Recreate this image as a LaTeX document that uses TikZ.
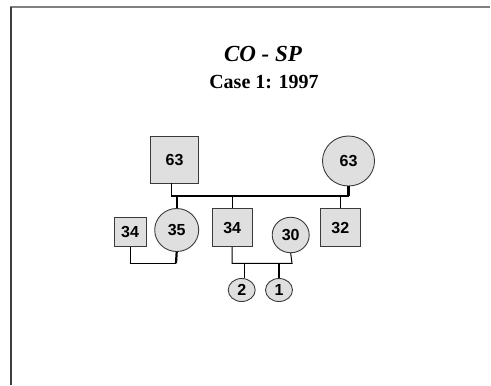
\documentclass[tikz,border=0pt]{standalone}
\usepackage{fontspec}
\usetikzlibrary{shapes.geometric}
\newfontfamily\pedfont{Liberation Sans}[UprightFont={* Bold}]
\newfontfamily\headfont{Liberation Serif}
\definecolor{pedfill}{HTML}{DFDFDF}
\definecolor{pededge}{HTML}{3A3A3A}
\begin{document}
\begin{tikzpicture}[x=1bp,y=-1bp,
  person/.style={draw=pededge, line width=0.9bp, fill=pedfill, inner sep=0pt,
    font=\pedfont\fontsize{16bp}{19bp}\selectfont},
  male/.style={person, rectangle},
  female/.style={person, ellipse},
  link/.style={line width=1bp, black},
  blood/.style={line width=2.2bp, black}]
\useasboundingbox (0,0) rectangle (491,385);
% page frame
\draw[line width=1.5bp, color=gray] (10,7) -- (490,7);
\draw[line width=1.5bp, color=black!75] (11,7) -- (11,385);

% headings
\node[anchor=base, font=\headfont\bfseries\itshape\fontsize{23bp}{26bp}\selectfont] (title) at (263,61) {CO - SP};
\node[anchor=base, font=\headfont\bfseries\fontsize{20bp}{24bp}\selectfont] (case) at (264,88.3) {Case 1: 1997};

% grandparents
\node[male, minimum width=48bp, minimum height=47bp] (gf) at (174.5,159.5) {63};
\node[female, minimum width=52bp, minimum height=50bp] (gm) at (348.5,161) {63};

% second generation
\node[male, minimum width=32bp, minimum height=29bp] (sp1) at (130,232) {34};
\node[female, minimum width=44bp, minimum height=43bp] (d35) at (176.7,230) {35};
\node[male, minimum width=40bp, minimum height=38bp] (s34) at (232.2,227.5) {34};
\node[female, minimum width=37bp, minimum height=35.5bp] (sp2) at (290.7,235) {30};
\node[male, minimum width=40bp, minimum height=38bp] (s32) at (340.3,227.5) {32};

% third generation
\node[female, minimum width=27bp, minimum height=23bp] (c2) at (241.7,290) {2};
\node[female, minimum width=27bp, minimum height=23bp] (c1) at (279,290) {1};

% sibship bar
\coordinate (barL) at (171,196);
\coordinate (barR) at (349,196);
\draw[link] (gf.south -| barL) -- (barL);
\draw[blood] (gm.south) -- (gm.south |- barR);
\draw[blood] (barL) -- (barR);
\draw[blood] (d35.north) -- (d35.north |- barL);
\draw[link] (s34.north) -- (s34.north |- barL);
\draw[link] (s32.north) -- (s32.north |- barL);

% marriage of 35
\coordinate (mL) at (176,263.3);
\draw[link] (sp1.south) |- (mL);
\draw[blood] (d35.south) -- (mL);

% marriage of 34 and children
\coordinate (mR) at (292,263.3);
\draw[link] (s34.south) |- (mR) -- (sp2.south);
\draw[link] ([xshift=2.5bp]c2.north) -- ([xshift=2.5bp]c2.north |- mR);
\draw[blood] (c1.north) -- (c1.north |- mR);
\end{tikzpicture}
\end{document}
